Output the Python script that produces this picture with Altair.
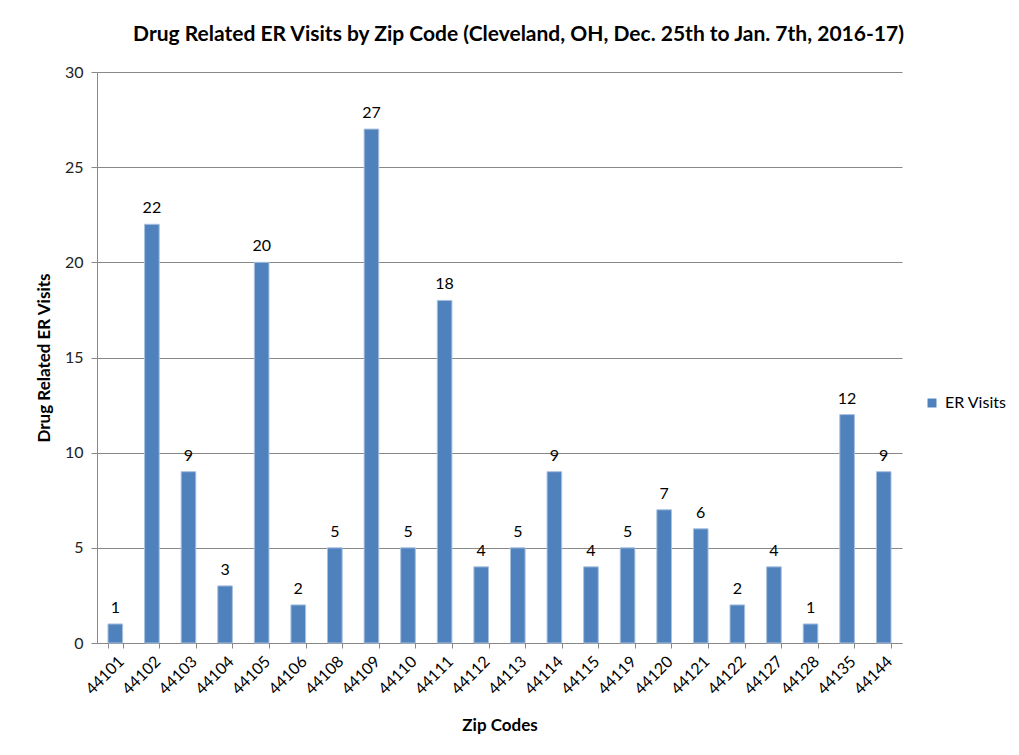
import altair as alt
import pandas as pd

zips = ["44101", "44102", "44103", "44104", "44105", "44106", "44108", "44109",
        "44110", "44111", "44112", "44113", "44114", "44115", "44119", "44120",
        "44121", "44122", "44127", "44128", "44135", "44144"]
visits = [1, 22, 9, 3, 20, 2, 5, 27, 5, 18, 4, 5, 9, 4, 5, 7, 6, 2, 4, 1, 12, 9]
series = "ER Visits"
y_ticks = [0, 5, 10, 15, 20, 25, 30]

df = pd.DataFrame({"Zip": zips, "Visits": visits, "Series": [series] * len(zips)})

FONT = "Lato"
W, H = 805, 571

x_enc = alt.X("Zip:N", sort=zips,
              scale=alt.Scale(paddingInner=0.6, paddingOuter=0.3),
              axis=alt.Axis(title="Zip Codes", labelAngle=-45, tickBand="extent",
                            labelFontSize=16, titleFontSize=17, titleFontWeight="bold",
                            labelColor="#000", titleColor="#000",
                            domainColor="#888", tickColor="#888", tickSize=5,
                            labelPadding=5, titlePadding=20))
y_enc = alt.Y("Visits:Q", scale=alt.Scale(domain=[0, 30], nice=False),
              axis=alt.Axis(title="Drug Related ER Visits", values=y_ticks,
                            labelFontSize=16, titleFontSize=17, titleFontWeight="bold",
                            labelColor="#222", titleColor="#000",
                            domainColor="#888", tickColor="#888", tickSize=6,
                            gridColor="#888", gridWidth=1,
                            labelPadding=8, titlePadding=11))

bars = alt.Chart(df).mark_bar(stroke="#A9C1E0", strokeWidth=1).encode(
    x=x_enc,
    y=y_enc,
    color=alt.Color("Series:N", scale=alt.Scale(range=["#4F81BD"]),
                    legend=alt.Legend(title=None, orient="none", legendX=827, legendY=323,
                                      symbolType="square", symbolSize=80,
                                      symbolStrokeWidth=0, labelFontSize=16,
                                      labelOffset=5, labelColor="#000")),
)

labels = alt.Chart(df).mark_text(baseline="bottom", dy=-8, fontSize=16, color="#000",
                                  font=FONT).encode(
    x=alt.X("Zip:N", sort=zips),
    y="Visits:Q",
    text="Visits:Q",
)

chart = alt.layer(bars, labels).properties(
    width=W, height=H,
    title=alt.TitleParams("Drug Related ER Visits by Zip Code (Cleveland, OH, Dec. 25th to Jan. 7th, 2016-17)",
                          fontSize=21, fontWeight="bold", color="#000", font=FONT,
                          anchor="middle", dx=19, offset=19),
    autosize=alt.AutoSizeParams(type="none"),
    padding={"left": 89, "top": 64, "right": 109, "bottom": 100},
).configure(font=FONT).configure_view(stroke=None).configure_axis(labelFont=FONT, titleFont=FONT)

chart.save("out.html", embed_options={"renderer": "svg", "actions": False})
